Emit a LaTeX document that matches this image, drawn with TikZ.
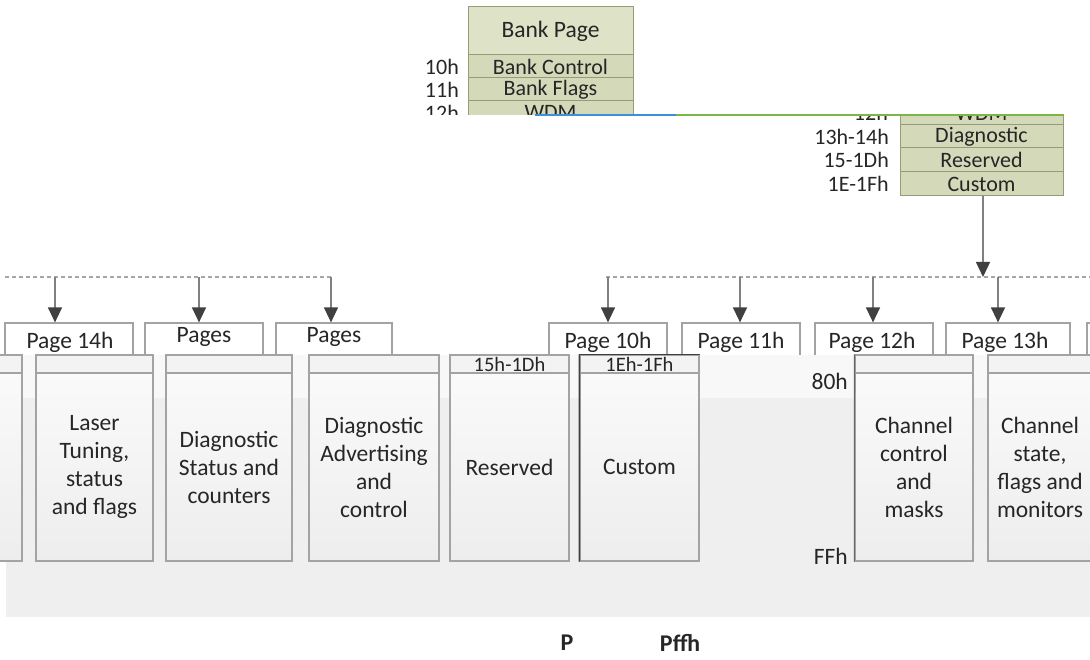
\documentclass[tikz,border=0pt]{standalone}
\usepackage{fontspec}
\setmainfont{Carlito}
\usetikzlibrary{arrows.meta}
\definecolor{bankfill}{HTML}{DEE2C6}
\definecolor{bankrow}{HTML}{D4D9B9}
\definecolor{bankline}{HTML}{939E78}
\definecolor{boxline}{HTML}{A3A3A3}
\definecolor{bandgray}{HTML}{EFEFEF}
\definecolor{bandlight}{HTML}{F8F8F8}
\definecolor{hdrgray}{HTML}{F3F3F3}
\definecolor{tipgray}{HTML}{404040}
\definecolor{conngray}{HTML}{808080}
\definecolor{bluel}{HTML}{3D8FD8}
\definecolor{greenl}{HTML}{7CB649}
\definecolor{txt}{HTML}{262626}
\begin{document}
\begin{tikzpicture}[x=1pt,y=-1pt,
  every node/.style={inner sep=0pt, text=txt},
  big/.style={font=\fontsize{23.5}{28}\selectfont},
  mid/.style={font=\fontsize{22}{24}\selectfont},
  small/.style={font=\fontsize{20.5}{22}\selectfont},
  bankhead/.style={draw=bankline, line width=1pt, fill=bankfill, big},
  bankrowbox/.style={draw=bankline, line width=1pt, fill=bankrow, mid},
  pagebox/.style={draw=boxline, line width=1.2pt, fill=white},
  colbox/.style={draw=boxline, line width=1.3pt, top color=white!98!black, bottom color=black!7, align=center, big},
  hdrbox/.style={draw=boxline, line width=1.2pt, fill=hdrgray, small},
  conn/.style={draw=conngray, line width=1.3pt, arrows={-{Triangle[length=15pt,width=14pt,color=tipgray]}}},
  dashl/.style={draw=black!35, line width=1.2pt, dash pattern=on 4pt off 3pt}]
\useasboundingbox (0,0) rectangle (1090,660);

% ---------------- Bank Page box (top) ----------------
\begin{scope}
\clip (400,0) rectangle (660,115);
\node[bankhead, minimum width=165pt, minimum height=48pt] (bp) at (550.5,31) {Bank Page};
\node[bankrowbox, minimum width=165pt, minimum height=23pt] (bctl) at (550.5,66.5) {Bank Control};
\node[bankrowbox, minimum width=165pt, minimum height=23pt] (bflg) at (550.5,89.5) {Bank Flags};
\node[bankrowbox, minimum width=165pt, minimum height=23pt] (bwdm) at (550.5,112.5) {WDM};
\node[mid, anchor=east] (l10) at (459,67) {10h};
\node[mid, anchor=east] (l11) at (459,90) {11h};
\node[mid, anchor=east] (l12) at (459,113) {12h};
\end{scope}

% ---------------- right register box ----------------
\begin{scope}
\clip (640,115) rectangle (1090,210);
\node[bankrowbox, minimum width=163pt, minimum height=23pt] (rwdm) at (981.5,113.5) {WDM};
\node[mid, anchor=east] (r12) at (888,113) {12h};
\end{scope}
\node[bankrowbox, minimum width=163pt, minimum height=23pt] (rdiag) at (981.5,136.5) {Diagnostic};
\node[bankrowbox, minimum width=163pt, minimum height=24pt] (rres) at (981.5,160) {Reserved};
\node[bankrowbox, minimum width=163pt, minimum height=24pt] (rcus) at (981.5,184) {Custom};
\node[mid, anchor=east] (r13) at (889,137) {13h-14h};
\node[mid, anchor=east] (r15) at (889,160) {15-1Dh};
\node[mid, anchor=east] (r1e) at (889,184) {1E-1Fh};

% coloured line
\coordinate (lb0) at (535,115.5);
\coordinate (lb1) at (676,115.5);
\coordinate (lg1) at (1063,115.5);
\draw[bluel, line width=2pt] (lb0) -- (lb1);
\draw[greenl, line width=2pt] (lb1) -- (lg1);

% ---------------- dashed distribution lines ----------------
\coordinate (dl0) at (5,277);
\coordinate (dl1) at (333,277);
\coordinate (dr0) at (606,277);
\coordinate (dr1) at (1090,277);
\draw[dashl] (dl0) -- (dl1);
\draw[dashl] (dr0) -- (dr1);

% ---------------- page boxes (top row) ----------------
\node[pagebox, minimum width=128pt, minimum height=50pt] (p14) at (69,348) {};
\node[pagebox, minimum width=118pt, minimum height=50pt] (pA) at (204,348) {};
\node[pagebox, minimum width=116pt, minimum height=50pt] (pB) at (334,348) {};
\node[pagebox, minimum width=118pt, minimum height=50pt] (p10) at (608,348) {};
\node[pagebox, minimum width=118pt, minimum height=50pt] (p11) at (741,348) {};
\node[pagebox, minimum width=118pt, minimum height=50pt] (p12) at (874,348) {};
\node[pagebox, minimum width=124pt, minimum height=50pt] (p13) at (1008,348) {};
\node[pagebox, minimum width=40pt, minimum height=50pt] (pX) at (1107,348) {};

\node[big] (t14) at (70,342) {Page 14h};
\node[big] (tA) at (204,337) {Pages};
\node[big] (tB) at (334,337) {Pages};
\node[big] (t10) at (608,342) {Page 10h};
\node[big] (t11) at (741,342) {Page 11h};
\node[big] (t12) at (872,342) {Page 12h};
\node[big] (t13) at (1005,342) {Page 13h};

% arrows
\coordinate (a1) at (55,277);
\coordinate (a2) at (199,277);
\coordinate (a3) at (331,277);
\coordinate (a4) at (608,277);
\coordinate (a5) at (740,277);
\coordinate (a6) at (873,277);
\coordinate (a7) at (998,277);
\draw[conn] (a1) -- (a1 |- p14.north);
\draw[conn] (a2) -- (a2 |- pA.north);
\draw[conn] (a3) -- (a3 |- pB.north);
\draw[conn] (a4) -- (a4 |- p10.north);
\draw[conn] (a5) -- (a5 |- p11.north);
\draw[conn] (a6) -- (a6 |- p12.north);
\draw[conn] (a7) -- (a7 |- p13.north);
\coordinate (rdown) at (983,196);
\draw[conn] (rdown) -- (rdown |- a7);

% ---------------- band ----------------
\fill[bandgray] (6,355) rectangle (1090,617);
\fill[bandlight] (6,355) rectangle (1090,398);

% header cells
\node[hdrbox, minimum width=40pt, minimum height=18pt] (h1) at (2,364) {};
\node[hdrbox, minimum width=117pt, minimum height=18pt] (h2) at (94.5,364) {};
\node[hdrbox, minimum width=126pt, minimum height=18pt] (h3) at (229,364) {};
\node[hdrbox, minimum width=130pt, minimum height=18pt] (h4) at (374,364) {};
\node[hdrbox, minimum width=119pt, minimum height=18pt] (h5) at (509.5,364) {15h-1Dh};
\node[hdrbox, minimum width=119pt, minimum height=18pt] (h6) at (639.5,364) {1Eh-1Fh};
\node[hdrbox, minimum width=118pt, minimum height=18pt] (h7) at (914,364) {};
\node[hdrbox, minimum width=130pt, minimum height=18pt] (h8) at (1053,364) {};

% body columns
\node[colbox, minimum width=40pt, minimum height=188pt] (c1) at (2,467) {};
\node[colbox, minimum width=117pt, minimum height=188pt] (c2) at (94.5,467) {Laser\\Tuning,\\status\\and flags};
\node[colbox, minimum width=126pt, minimum height=188pt] (c3) at (229,467) {Diagnostic\\Status and\\counters};
\node[colbox, minimum width=130pt, minimum height=188pt] (c4) at (374,467) {Diagnostic\\Advertising\\and\\control};
\node[colbox, minimum width=119pt, minimum height=188pt] (c5) at (509.5,467) {Reserved};
\node[colbox, minimum width=119pt, minimum height=188pt] (c6) at (639.5,467) {Custom};
\node[colbox, minimum width=118pt, minimum height=188pt] (c7) at (914,467) {Channel\\control\\and\\masks};
\node[colbox, minimum width=130pt, minimum height=188pt] (c8) at (1053,467) {};
\node[big, align=center] (c8t) at (1040,467) {Channel\\state,\\flags and\\monitors};

% dark edges
\draw[black!75, line width=1.6pt] (h6.north west) -- (c6.south west);
\draw[black!75, line width=1.6pt] (h6.north west) -- (h6.north east);
\draw[black!60, line width=1.2pt] (h7.north west) -- (c7.south west);

% offset labels
\node[big, anchor=east] (l80) at (848,381) {80h};
\node[big, anchor=east] (lff) at (848,556) {FFh};

% bottom text
\node[font=\fontsize{24}{26}\selectfont\bfseries] (bp1) at (567,643) {P};
\node[font=\fontsize{24}{26}\selectfont\bfseries] (bp2) at (680,643) {Pffh};
\end{tikzpicture}
\end{document}
